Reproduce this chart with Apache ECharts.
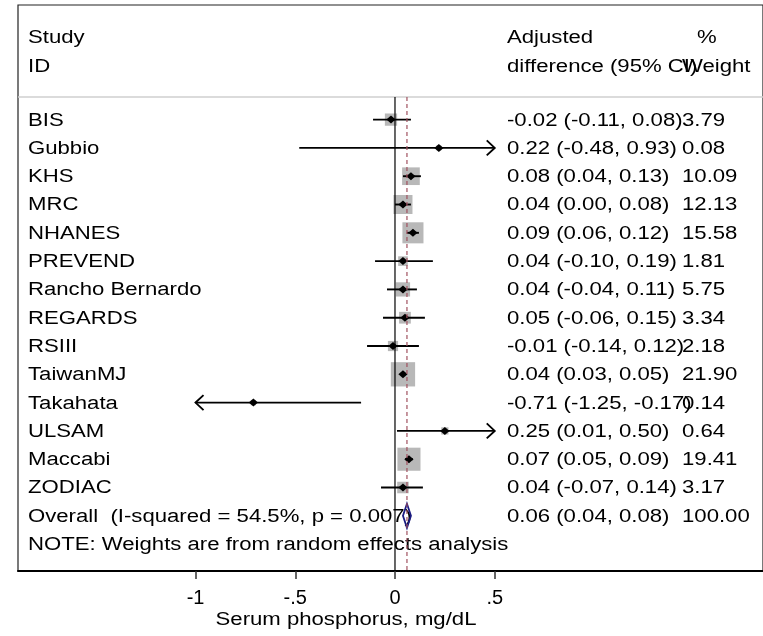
<!DOCTYPE html>
<html><head><meta charset="utf-8">
<script src="https://cdn.jsdelivr.net/npm/echarts@6/dist/echarts.min.js"></script>
<style>html,body{margin:0;padding:0;background:#fff}#c{width:763px;height:636px}</style>
</head><body><div id="c"></div>
<script>
// ---- data ----
const studies = ['BIS','Gubbio','KHS','MRC','NHANES','PREVEND','Rancho Bernardo','REGARDS','RSIII','TaiwanMJ','Takahata','ULSAM','Maccabi','ZODIAC'];
const estimates = [-0.02, 0.22, 0.08, 0.04, 0.09, 0.04, 0.04, 0.05, -0.01, 0.04, -0.71, 0.25, 0.07, 0.04];
const lower     = [-0.11, -0.48, 0.04, 0.00, 0.06, -0.10, -0.04, -0.06, -0.14, 0.03, -1.25, 0.01, 0.05, -0.07];
const upper     = [0.08, 0.93, 0.13, 0.08, 0.12, 0.19, 0.11, 0.15, 0.12, 0.05, -0.17, 0.50, 0.09, 0.14];
const weights   = [3.79, 0.08, 10.09, 12.13, 15.58, 1.81, 5.75, 3.34, 2.18, 21.90, 0.14, 0.64, 19.41, 3.17];
const overallEstimate = [0.06, 0.04, 0.08];
const overallWeight = 100.00;
const overallLabel = 'Overall  (I-squared = 54.5%, p = 0.007)';
const tickValues = [-1, -0.5, 0, 0.5];
const tickLabels = ['-1', '-.5', '0', '.5'];
const headerLeft = ['Study', 'ID'];
const headerMid = ['Adjusted', 'difference (95% CI)'];
const headerRight = ['%', 'Weight'];
const noteText = 'NOTE: Weights are from random effects analysis';
const axisTitle = 'Serum phosphorus, mg/dL';

// ---- layout / style ----
const FONT = '"Liberation Sans", Arial, sans-serif';
const FS = 18;
const SX = 1.23;
const XLIM = [-1, 0.5];
const COL_NAME = 28, COL_CI = 507, COL_W = 682;
const TXT_DY = 1;

function txt(x, y, s, extra) {
  return Object.assign({
    type: 'text', x: x, y: y, scaleX: SX,
    style: { text: s, fontSize: FS, fontFamily: FONT, fill: '#000',
      align: 'left', verticalAlign: 'middle', textAlign: 'left', textVerticalAlign: 'middle' }
  }, extra || {});
}
const fmt = v => v.toFixed(2);

const studyData = studies.map((s, i) => [estimates[i], lower[i], upper[i], weights[i], i]);

function renderStudy(params, api) {
  const i = params.dataIndex;
  const e = api.value(0), lo = api.value(1), hi = api.value(2), w = api.value(3), row = api.value(4);
  const cl = Math.max(lo, XLIM[0]), ch = Math.min(hi, XLIM[1]);
  const pE = api.coord([e, row]);
  const pL = api.coord([cl, row]);
  const pH = api.coord([ch, row]);
  const y = pE[1];
  const side = 3.7 + 4.4 * Math.sqrt(w);
  const ch2 = [
    { type: 'rect', shape: { x: pE[0] - side / 2, y: y - side / 2, width: side, height: side }, style: { fill: '#b8b8b8' } },
    { type: 'line', shape: { x1: pL[0], y1: y, x2: pH[0], y2: y }, style: { stroke: '#000', lineWidth: 1.9 } },
    { type: 'polygon', shape: { points: [[pE[0] - 4.6, y], [pE[0], y - 4], [pE[0] + 4.6, y], [pE[0], y + 4]] }, style: { fill: '#000' } }
  ];
  if (lo < XLIM[0]) {
    ch2.push({ type: 'polyline', shape: { points: [[pL[0] + 8, y - 7.5], [pL[0], y], [pL[0] + 8, y + 7.5]] }, style: { stroke: '#000', lineWidth: 1.9, fill: null } });
  }
  if (hi >= XLIM[1]) {
    ch2.push({ type: 'polyline', shape: { points: [[pH[0] - 8, y - 7.5], [pH[0], y], [pH[0] - 8, y + 7.5]] }, style: { stroke: '#000', lineWidth: 1.9, fill: null } });
  }
  ch2.push(txt(COL_NAME, y + TXT_DY, studies[i]));
  ch2.push(txt(COL_CI, y + TXT_DY, fmt(e) + ' (' + fmt(lo) + ', ' + fmt(hi) + ')'));
  ch2.push(txt(COL_W, y + TXT_DY, fmt(w)));
  return { type: 'group', children: ch2 };
}

function renderOverall(params, api) {
  const e = api.value(0), lo = api.value(1), hi = api.value(2), w = api.value(3), row = api.value(4);
  const pE = api.coord([e, row]), pL = api.coord([lo, row]), pH = api.coord([hi, row]);
  const y = pE[1];
  return { type: 'group', children: [
    txt(COL_NAME, y + TXT_DY, overallLabel),
    txt(COL_CI, y + TXT_DY, fmt(e) + ' (' + fmt(lo) + ', ' + fmt(hi) + ')'),
    txt(COL_W, y + TXT_DY, fmt(w)),
    { type: 'polygon', shape: { points: [[pL[0], y], [pE[0], y - 12], [pH[0], y], [pE[0], y + 12]] },
      style: { fill: null, stroke: '#1a1a80', lineWidth: 1.8 } }
  ]};
}

const overallRow = studies.length;
const lineTop = -0.8, lineBottom = 15.95;

const chart = echarts.init(document.getElementById('c'), null, { renderer: 'canvas' });
chart.setOption({
  animation: false,
  backgroundColor: '#fff',
  grid: { left: 18, right: -2, top: 5, bottom: 65, show: true, borderColor: '#222', borderWidth: 1.2, backgroundColor: 'transparent' },
  xAxis: {
    type: 'value', min: -1.89, max: 1.845,
    axisLine: { show: true, onZero: false, lineStyle: { color: '#000', width: 2 } },
    axisTick: { show: true, customValues: tickValues, length: 8, lineStyle: { color: '#333', width: 1.5 } },
    axisLabel: { customValues: tickValues, fontSize: 20, fontFamily: FONT, color: '#000', margin: 17,
      formatter: v => { let k = 0; tickValues.forEach((t, j) => { if (Math.abs(t - v) < Math.abs(tickValues[k] - v)) k = j; }); return tickLabels[k]; } },
    splitLine: { show: false }
  },
  yAxis: { type: 'value', inverse: true, min: -4.05, max: 15.95, show: false },
  graphic: [
    { type: 'line', shape: { x1: 18, y1: 97, x2: 763, y2: 97 }, style: { stroke: '#cfcfcf', lineWidth: 1.5 }, z: 1 },
    txt(COL_NAME, 38, headerLeft[0]), txt(COL_NAME, 67, headerLeft[1]),
    txt(COL_CI, 38, headerMid[0]), txt(COL_CI, 67, headerMid[1]),
    txt(697, 38, headerRight[0]), txt(COL_W, 67, headerRight[1]),
    txt(COL_NAME, 545, noteText),
    { type: 'text', x: 346, y: 620, scaleX: SX,
      style: { text: axisTitle, fontSize: FS, fontFamily: FONT, fill: '#000', align: 'center', verticalAlign: 'middle', textAlign: 'center', textVerticalAlign: 'middle' } }
  ],
  series: [
    { type: 'custom', renderItem: renderStudy, data: studyData, clip: false, encode: { x: [0, 1, 2], y: 4 }, z: 2 },
    { type: 'custom', renderItem: renderOverall, data: [[overallEstimate[0], overallEstimate[1], overallEstimate[2], overallWeight, overallRow]], clip: false, encode: { x: [0, 1, 2], y: 4 }, z: 2 },
    { type: 'line', data: [[0, lineTop], [0, lineBottom]], symbol: 'none', lineStyle: { color: '#000', width: 1.2 }, z: 3, silent: true },
    { type: 'line', data: [[overallEstimate[0], lineTop], [overallEstimate[0], lineBottom]], symbol: 'none', lineStyle: { color: '#a0505e', width: 1.2, type: [4, 3] }, z: 3, silent: true }
  ]
});
</script></body></html>
